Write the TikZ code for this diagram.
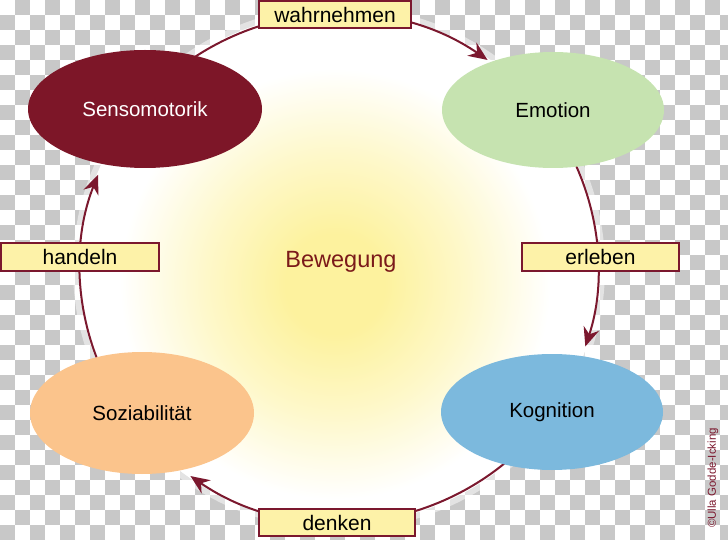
\documentclass[tikz,border=0pt]{standalone}
\usepackage{fontspec}
\setmainfont{Liberation Sans}
\usetikzlibrary{shapes.geometric,arrows.meta,calc}
\definecolor{checkgray}{RGB}{200,200,200}
\definecolor{glowc}{RGB}{253,242,158}
\definecolor{arrowc}{RGB}{123,24,46}
\definecolor{sensoc}{RGB}{125,22,40}
\definecolor{emoc}{RGB}{198,227,176}
\definecolor{kogc}{RGB}{124,185,221}
\definecolor{sozc}{RGB}{251,196,140}
\definecolor{boxc}{RGB}{253,242,168}
\definecolor{bewc}{RGB}{123,26,26}
\colorlet{glowmid}{glowc!55!white}
\pgfdeclareradialshading{glow}{\pgfpoint{0bp}{0bp}}{color(0bp)=(glowc); color(5bp)=(glowc); color(13bp)=(glowmid); color(21.5bp)=(white); color(25bp)=(white); color(50bp)=(white)}
\tikzset{
  ell/.style={ellipse, inner sep=0pt, font=\fontsize{20.5}{20.5}\selectfont},
  lbl/.style={draw=arrowc, line width=2pt, fill=boxc, minimum height=27pt, inner sep=0pt, font=\fontsize{21}{21}\selectfont},
  cyc/.style={draw=arrowc, line width=2pt, -{Stealth[length=19pt,width=16pt]}}
}
\begin{document}
\begin{tikzpicture}[x=1pt,y=1pt]
\useasboundingbox (0,0) rectangle (728,539);
% checkerboard
\begin{scope}
\clip (0,0) rectangle (728,539);
\foreach \i in {0,...,48}{
  \foreach \j in {0,...,35}{
    \pgfmathtruncatemacro\k{mod(\i+\j,2)}
    \ifnum\k=1
      \fill[checkgray] (15*\i,539-15*\j) rectangle ++(15,-15);
    \fi
  }
}
\end{scope}
% glow
\coordinate (ring) at (339,271);
\coordinate (glowcentre) at (335,255);
\fill[white, opacity=0.5] (ring) ellipse [x radius=266pt, y radius=262pt];
\fill[white] (ring) ellipse [x radius=260pt, y radius=256pt];
\begin{scope}
\clip (ring) ellipse [x radius=260pt, y radius=256pt];
\shade[shading=glow] (glowcentre) circle [radius=250pt];
\end{scope}
% ring points
\coordinate (wS) at ($(ring)+(126:259pt and 254pt)$);
\coordinate (eS) at ($(ring)+(25:259pt and 254pt)$);
\coordinate (dS) at ($(ring)+(-48:259pt and 254pt)$);
\coordinate (hS) at ($(ring)+(203:259pt and 254pt)$);
% arcs
\draw[cyc] (wS) arc[start angle=126, end angle=55, x radius=259pt, y radius=254pt];
\draw[cyc] (eS) arc[start angle=25, end angle=-18, x radius=259pt, y radius=254pt];
\draw[cyc] (dS) arc[start angle=-48, end angle=-125, x radius=259pt, y radius=254pt];
\draw[cyc] (hS) arc[start angle=203, end angle=158.5, x radius=259pt, y radius=254pt];
% ellipses
\node[ell, fill=sensoc, text=white, minimum width=234pt, minimum height=118pt] (senso) at (145,430) {Sensomotorik};
\node[ell, fill=emoc, minimum width=222pt, minimum height=116pt] (emo) at (553,429) {Emotion};
\node[ell, fill=kogc, minimum width=222pt, minimum height=116pt] (kog) at (552,127) {Kognition};
\node[ell, fill=sozc, minimum width=224pt, minimum height=122pt] (soz) at (142,126) {Soziabilität};
% labels
\node[lbl, minimum width=152pt] (wahr) at (335,524.5) {wahrnehmen};
\node[lbl, minimum width=157pt] (erl) at (600.5,282) {erleben};
\node[lbl, minimum width=158pt] (hand) at (80,282) {handeln};
\node[lbl, minimum width=156pt] (denk) at (337,16.5) {denken};
% centre
\node[text=bewc, font=\fontsize{23.5}{23.5}\selectfont] (bew) at (341,277) {Bewegung};
\node[rotate=90, text=arrowc, font=\fontsize{11.5}{11.5}\selectfont] (copy) at (713,61) {©Ulla Godde-Icking};
\end{tikzpicture}
\end{document}
